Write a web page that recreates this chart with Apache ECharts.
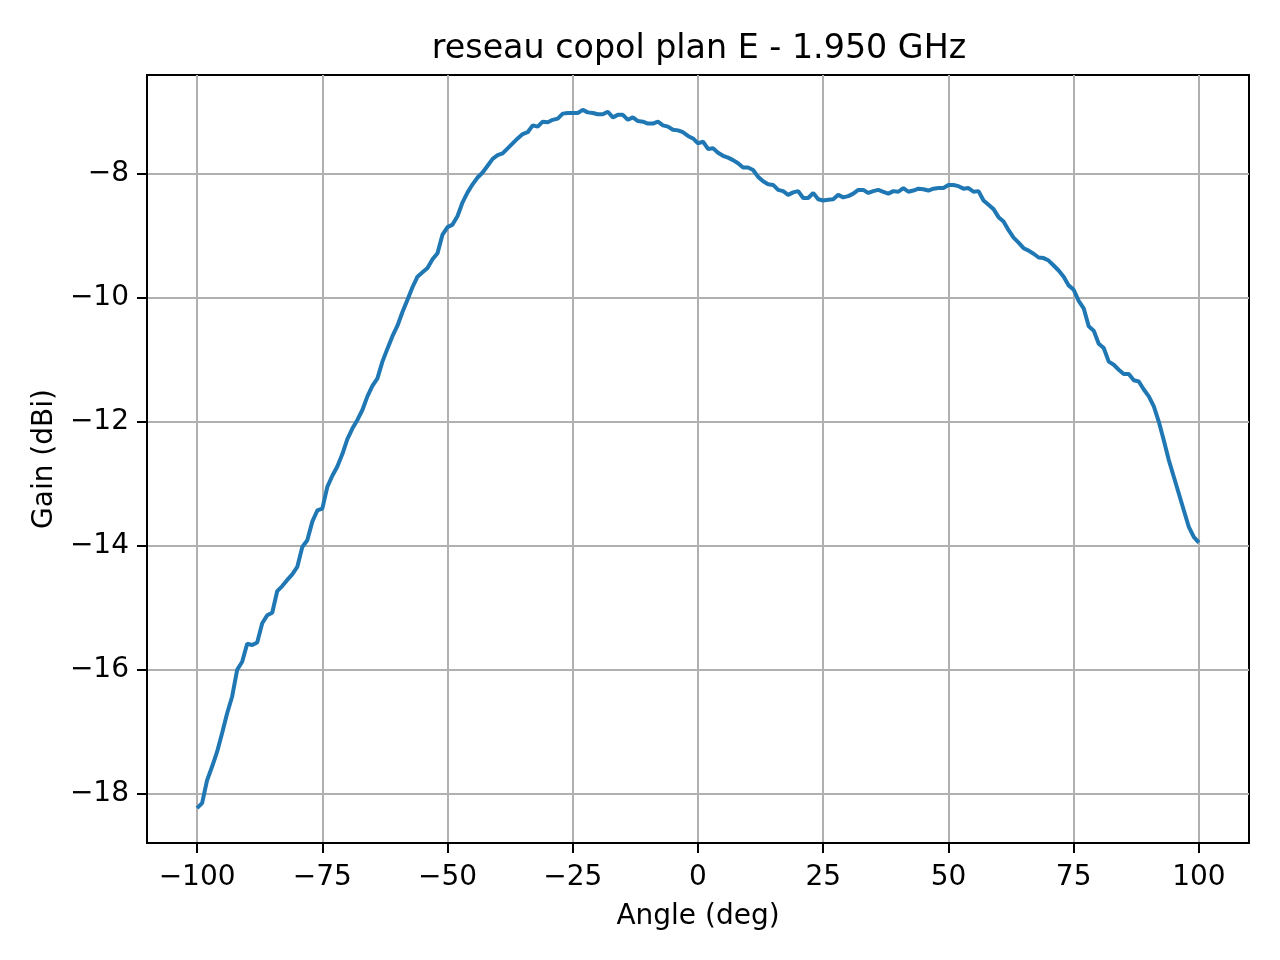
<!DOCTYPE html>
<html>
<head>
<meta charset="utf-8">
<title>reseau copol plan E - 1.950 GHz</title>
<script src="https://cdn.jsdelivr.net/npm/echarts@6/dist/echarts.min.js"></script>
<style>
  html, body { margin: 0; padding: 0; background: #fff; }
  #chart { width: 1280px; height: 960px; }
</style>
</head>
<body>
<div id="chart"></div>
<script>
// angles de mesure (deg)
var angles = [
  -100, -99, -98, -97, -96, -95, -94, -93, -92, -91,
  -90, -89, -88, -87, -86, -85, -84, -83, -82, -81,
  -80, -79, -78, -77, -76, -75, -74, -73, -72, -71,
  -70, -69, -68, -67, -66, -65, -64, -63, -62, -61,
  -60, -59, -58, -57, -56, -55, -54, -53, -52, -51,
  -50, -49, -48, -47, -46, -45, -44, -43, -42, -41,
  -40, -39, -38, -37, -36, -35, -34, -33, -32, -31,
  -30, -29, -28, -27, -26, -25, -24, -23, -22, -21,
  -20, -19, -18, -17, -16, -15, -14, -13, -12, -11,
  -10, -9, -8, -7, -6, -5, -4, -3, -2, -1,
  0, 1, 2, 3, 4, 5, 6, 7, 8, 9,
  10, 11, 12, 13, 14, 15, 16, 17, 18, 19,
  20, 21, 22, 23, 24, 25, 26, 27, 28, 29,
  30, 31, 32, 33, 34, 35, 36, 37, 38, 39,
  40, 41, 42, 43, 44, 45, 46, 47, 48, 49,
  50, 51, 52, 53, 54, 55, 56, 57, 58, 59,
  60, 61, 62, 63, 64, 65, 66, 67, 68, 69,
  70, 71, 72, 73, 74, 75, 76, 77, 78, 79,
  80, 81, 82, 83, 84, 85, 86, 87, 88, 89,
  90, 91, 92, 93, 94, 95, 96, 97, 98, 99,
  100
];
// gain copol (dBi)
var gain = [
  -18.23, -18.15, -17.78, -17.56, -17.32, -17.02, -16.70, -16.43, -16.00, -15.87,
  -15.58, -15.60, -15.56, -15.25, -15.12, -15.08, -14.73, -14.65, -14.55, -14.46,
  -14.34, -14.02, -13.91, -13.61, -13.43, -13.40, -13.05, -12.87, -12.72, -12.52,
  -12.28, -12.11, -11.97, -11.81, -11.59, -11.42, -11.30, -11.03, -10.82, -10.62,
  -10.45, -10.23, -10.03, -9.83, -9.66, -9.59, -9.52, -9.38, -9.28, -8.98,
  -8.86, -8.82, -8.68, -8.46, -8.30, -8.17, -8.06, -7.98, -7.87, -7.76,
  -7.70, -7.67, -7.59, -7.51, -7.43, -7.36, -7.33, -7.22, -7.24, -7.16,
  -7.17, -7.13, -7.11, -7.03, -7.02, -7.02, -7.02, -6.97, -7.01, -7.02,
  -7.04, -7.04, -7.00, -7.09, -7.05, -7.05, -7.13, -7.09, -7.15, -7.16,
  -7.19, -7.19, -7.16, -7.22, -7.24, -7.29, -7.30, -7.33, -7.39, -7.43,
  -7.51, -7.48, -7.60, -7.59, -7.66, -7.71, -7.74, -7.78, -7.83, -7.90,
  -7.90, -7.94, -8.05, -8.12, -8.17, -8.18, -8.26, -8.28, -8.34, -8.30,
  -8.28, -8.39, -8.39, -8.31, -8.41, -8.43, -8.42, -8.41, -8.34, -8.38,
  -8.36, -8.32, -8.26, -8.26, -8.31, -8.28, -8.26, -8.29, -8.32, -8.28,
  -8.29, -8.23, -8.29, -8.27, -8.24, -8.25, -8.27, -8.24, -8.23, -8.23,
  -8.18, -8.18, -8.20, -8.24, -8.23, -8.29, -8.28, -8.43, -8.50, -8.57,
  -8.70, -8.77, -8.91, -9.03, -9.11, -9.20, -9.24, -9.29, -9.35, -9.36,
  -9.40, -9.48, -9.56, -9.66, -9.80, -9.87, -10.05, -10.17, -10.46, -10.53,
  -10.74, -10.81, -11.03, -11.08, -11.16, -11.23, -11.23, -11.33, -11.35, -11.48,
  -11.59, -11.75, -12.00, -12.30, -12.62, -12.89, -13.16, -13.43, -13.70, -13.86,
  -13.95
];
var xTicks = [-100, -75, -50, -25, 0, 25, 50, 75, 100];
var yTicks = [-18, -16, -14, -12, -10, -8];

var FONT = 'DejaVu Sans';
var GRID_COL = '#b0b0b0';

// marges 5% comme matplotlib
var gMin = Math.min.apply(null, gain), gMax = Math.max.apply(null, gain);
var yPad = (gMax - gMin) * 0.05;
var xPad = (angles[angles.length - 1] - angles[0]) * 0.05;

var points = [];
for (var i = 0; i < angles.length; i++) {
  points.push([angles[i], gain[i]]);
}

function fmtMinus(v) {
  return String(v).replace('-', '\u2212');
}

var myChart = echarts.init(document.getElementById('chart'), null, { renderer: 'canvas' });

var option = {
  animation: false,
  backgroundColor: '#fff',
  title: {
    text: 'reseau copol plan E - 1.950 GHz',
    left: 694,
    textAlign: 'center',
    top: 28,
    textStyle: { fontFamily: FONT, fontSize: 33.3, fontWeight: 'normal', color: '#000' }
  },
  grid: {
    left: 147, top: 75, width: 1102, height: 768,
    show: true, borderColor: '#000', borderWidth: 2, backgroundColor: 'transparent'
  },
  xAxis: {
    type: 'value',
    min: angles[0] - xPad,
    max: angles[angles.length - 1] + xPad,
    name: 'Angle (deg)',
    nameLocation: 'middle',
    nameGap: 60,
    nameTextStyle: { fontFamily: FONT, fontSize: 28, color: '#000' },
    axisLine: { show: true, onZero: false, lineStyle: { color: '#000', width: 2 } },
    axisTick: { show: true, inside: false, length: 10, customValues: xTicks, lineStyle: { color: '#000', width: 2 } },
    axisLabel: {
      customValues: xTicks, margin: 21, fontFamily: FONT, fontSize: 28, color: '#000',
      formatter: fmtMinus
    },
    splitLine: { show: true, lineStyle: { color: GRID_COL, width: 2 } }
  },
  yAxis: {
    type: 'value',
    min: gMin - yPad,
    max: gMax + yPad,
    name: 'Gain (dBi)',
    nameLocation: 'middle',
    nameGap: 88,
    nameTextStyle: { fontFamily: FONT, fontSize: 28, color: '#000' },
    axisLine: { show: true, onZero: false, lineStyle: { color: '#000', width: 2 } },
    axisTick: { show: true, inside: false, length: 10, customValues: yTicks, lineStyle: { color: '#000', width: 2 } },
    axisLabel: {
      customValues: yTicks, margin: 18, fontFamily: FONT, fontSize: 28, color: '#000',
      formatter: fmtMinus
    },
    splitLine: { show: true, lineStyle: { color: GRID_COL, width: 2 } }
  },
  series: [{
    type: 'line',
    data: points,
    showSymbol: false,
    symbol: 'none',
    lineStyle: { color: '#1f77b4', width: 4 },
    itemStyle: { color: '#1f77b4' }
  }]
};

myChart.setOption(option);
</script>
</body>
</html>
